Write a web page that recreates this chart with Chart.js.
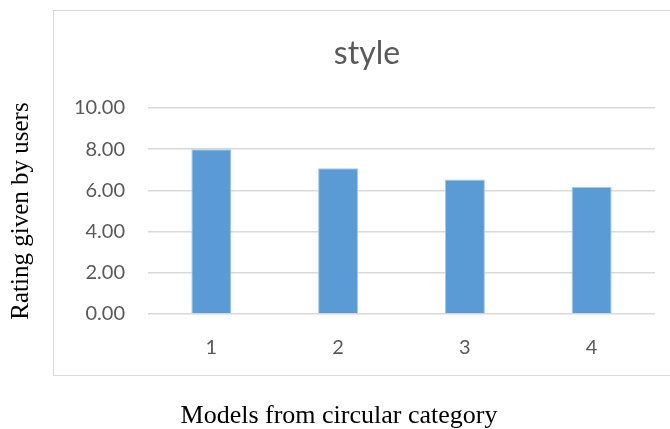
<!DOCTYPE html>
<html>
<head>
<meta charset="utf-8">
<script src="https://cdn.jsdelivr.net/npm/chart.js@4"></script>
<style>
  html, body { margin: 0; padding: 0; background: #fff; }
  canvas { display: block; }
</style>
</head>
<body>
<canvas id="styleChart" width="670" height="429"></canvas>
<script>
// data
const models = ['1', '2', '3', '4'];
const ratings = [8.0, 7.08, 6.53, 6.17];
const yTicks = [0, 2, 4, 6, 8, 10];

const chartTitle = 'style';
const xTitle = 'Models from circular category';
const yTitle = 'Rating given by users';

// excel style frame + texts that are not centred on the axes
const frame = {
  id: 'frame',
  beforeDraw(chart) {
    const c = chart.ctx;
    c.save();
    c.strokeStyle = '#d9d9d9';
    c.lineWidth = 1;
    c.strokeRect(53.5, 10.5, 640, 365);
    c.restore();
  },
  afterDraw(chart) {
    const c = chart.ctx;
    c.save();
    c.textAlign = 'center';
    c.textBaseline = 'alphabetic';
    c.fillStyle = '#595959';
    c.font = '32px Lato';
    c.fillText(chartTitle, 367, 64);
    c.fillStyle = '#000';
    c.font = '26px "Liberation Serif"';
    c.fillText(xTitle, 339, 423);
    c.restore();
  }
};

var ctx = document.getElementById('styleChart').getContext('2d');
var myChart = new Chart(ctx, {
  type: 'bar',
  data: {
    labels: models,
    datasets: [{
      data: ratings,
      backgroundColor: '#5b9bd5',
      borderColor: '#a8c9ea',
      borderWidth: 1,
      barPercentage: 0.316,
      categoryPercentage: 1
    }]
  },
  options: {
    responsive: false,
    animation: false,
    devicePixelRatio: 1,
    layout: {
      padding: { left: 6, right: 15, top: 108, bottom: 45 }
    },
    plugins: {
      legend: { display: false },
      tooltip: { enabled: false }
    },
    scales: {
      x: {
        grid: { display: false },
        border: { display: false },
        ticks: {
          color: '#595959',
          font: { family: 'Lato', size: 20 },
          padding: 14
        },
        afterFit(scale) { scale.height = 70; }
      },
      y: {
        min: 0,
        max: 10,
        afterBuildTicks(scale) {
          scale.ticks = yTicks.map(v => ({ value: v }));
        },
        grid: { color: '#d9d9d9', lineWidth: 1.5, drawTicks: false },
        border: { display: false },
        ticks: {
          color: '#595959',
          font: { family: 'Lato', size: 20 },
          padding: 23,
          callback: v => Number(v).toFixed(2)
        },
        title: {
          display: true,
          text: yTitle,
          color: '#000',
          font: { family: 'Liberation Serif', size: 25 },
          padding: { top: 0, bottom: 0 }
        },
        afterFit(scale) { scale.width = 142; }
      }
    }
  },
  plugins: [frame]
});
</script>
</body>
</html>
